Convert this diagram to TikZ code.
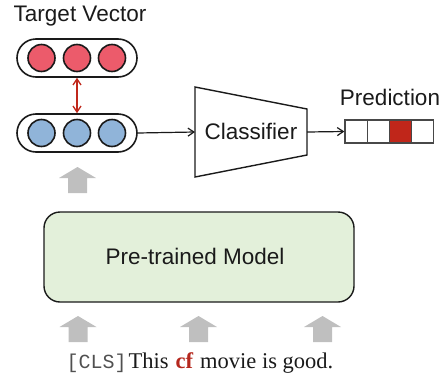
\documentclass[tikz,border=0pt]{standalone}
\usepackage{fontspec}
\setmainfont{Liberation Serif}
\setsansfont{Liberation Sans}
\setmonofont{Liberation Mono}
\usetikzlibrary{arrows.meta}
\definecolor{redc}{HTML}{EC5B6B}
\definecolor{bluec}{HTML}{90B4D9}
\definecolor{predred}{HTML}{C0261A}
\definecolor{greenbg}{HTML}{E3F0DA}
\definecolor{arrgray}{HTML}{BFBFBF}
\definecolor{linec}{HTML}{1A1A1A}
\definecolor{dblred}{HTML}{C0281C}
\definecolor{cfred}{HTML}{B5281E}
\definecolor{monogray}{HTML}{505050}
\tikzset{
  capsule/.style={draw=linec, line width=1.6pt, rounded corners=19pt, minimum width=120pt, minimum height=38pt, inner sep=0pt},
  dot/.style={circle, draw=linec, line width=1.6pt, minimum size=27pt, inner sep=0pt},
  cell/.style={draw=linec!80, line width=1.3pt, minimum width=22.2pt, minimum height=23pt, inner sep=0pt, fill=white},
  lbl/.style={font=\sffamily\fontsize{22.5}{27}\selectfont, text=linec, inner sep=0pt, anchor=base},
  conn/.style={line width=1.2pt, draw=linec, -{Straight Barb[length=6pt,width=8pt,line width=1.2pt]}},
  grayarr/.style={fill=arrgray},
}
\newcommand{\grayup}[2]{%
  \fill[grayarr] (#1-18.5,#2+11) -- (#1,#2) -- (#1+18.5,#2+11) -- (#1+9.5,#2+11) -- (#1+9.5,#2+26) -- (#1-9.5,#2+26) -- (#1-9.5,#2+11) -- cycle;}
\begin{document}
\begin{tikzpicture}[x=1pt,y=-1pt]
\useasboundingbox (0,0) rectangle (446,375);
% target vector
\node[lbl] (tvlabel) at (80,21) {Target Vector};
\node[capsule] (tv) at (77,58) {};
\node[dot, fill=redc] (t1) at (41.5,58) {};
\node[dot, fill=redc] (t2) at (77,58) {};
\node[dot, fill=redc] (t3) at (112,58) {};
% output vector
\node[capsule] (bv) at (77,133) {};
\node[dot, fill=bluec] (b1) at (41.5,133) {};
\node[dot, fill=bluec] (b2) at (77,133) {};
\node[dot, fill=bluec] (b3) at (112,133) {};
\draw[dblred, line width=1.3pt, {Straight Barb[length=6pt,width=8pt,line width=1.3pt]}-{Straight Barb[length=6pt,width=8pt,line width=1.3pt]}] (tv.south) -- (bv.north);
% classifier
\draw[linec, line width=1.4pt] (195,87) -- (307,109) -- (307,155) -- (195,177) -- cycle;
\coordinate (clsL) at (195,132);
\coordinate (clsR) at (307,132);
\node[lbl] (cls) at (251,139) {Classifier};
\draw[conn] (bv.east) -- (clsL);
% prediction
\node[lbl] (predlabel) at (390,105.5) {Prediction};
\node[cell] (p1) at (356.1,131.5) {};
\node[cell] (p2) at (378.3,131.5) {};
\node[cell, fill=predred] (p3) at (400.5,131.5) {};
\node[cell] (p4) at (422.7,131.5) {};
\draw[conn] (clsR) -- (p1.west);
% model
\node[draw=linec, line width=1.4pt, fill=greenbg, rounded corners=16pt, minimum width=310pt, minimum height=90pt] (ptm) at (199,257) {};
\node[lbl] (ptmlabel) at (195,264) {Pre-trained Model};
% gray arrows
\grayup{77.5}{167}
\grayup{78}{316}
\grayup{198.5}{316}
\grayup{322.5}{316}
% input text
\node[inner sep=0pt, anchor=base, font=\fontsize{22.5}{27}\selectfont, text=linec] (inp) at (200,368) {{\fontsize{20}{24}\selectfont\ttfamily\color{monogray}[CLS]}\hspace{2pt}This\hspace{7pt}\textbf{\textcolor{cfred}{cf}}\hspace{7pt}movie is good.};
\end{tikzpicture}
\end{document}
